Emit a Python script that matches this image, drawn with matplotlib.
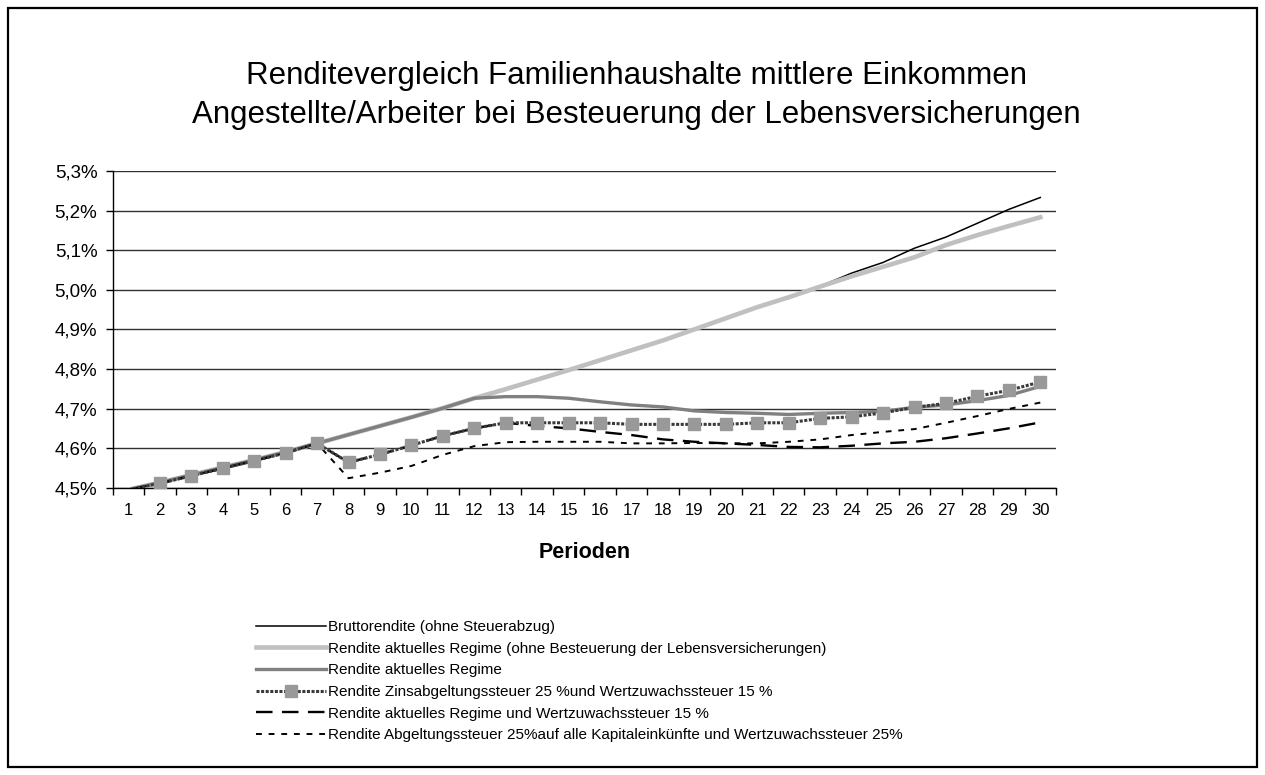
import numpy as np
import matplotlib.pyplot as plt
from matplotlib.patches import Rectangle

plt.rcParams['font.family'] = ['Liberation Sans', 'DejaVu Sans']

periods = list(range(1, 31))

# Renditen in Prozent je Periode
brutto = [4.495, 4.513, 4.532, 4.551, 4.570, 4.590, 4.612, 4.634, 4.656, 4.678,
          4.701, 4.726, 4.749, 4.773, 4.797, 4.822, 4.847, 4.872, 4.900, 4.928,
          4.956, 4.981, 5.009, 5.042, 5.069, 5.105, 5.133, 5.168, 5.203, 5.233]
ohne_lv = [4.495, 4.513, 4.532, 4.551, 4.570, 4.590, 4.612, 4.634, 4.656, 4.678,
           4.701, 4.726, 4.749, 4.773, 4.797, 4.822, 4.847, 4.872, 4.900, 4.928,
           4.956, 4.981, 5.008, 5.034, 5.058, 5.082, 5.113, 5.138, 5.161, 5.183]
aktuell = [4.495, 4.513, 4.532, 4.551, 4.570, 4.590, 4.612, 4.634, 4.656, 4.678,
           4.701, 4.726, 4.730, 4.730, 4.726, 4.717, 4.709, 4.704, 4.694, 4.690,
           4.688, 4.685, 4.688, 4.690, 4.693, 4.703, 4.709, 4.720, 4.733, 4.756]
zins_wz15 = [4.495, 4.511, 4.530, 4.549, 4.568, 4.588, 4.612, 4.564, 4.584, 4.607,
             4.631, 4.650, 4.664, 4.664, 4.664, 4.664, 4.660, 4.660, 4.660, 4.660,
             4.664, 4.664, 4.675, 4.679, 4.689, 4.703, 4.713, 4.731, 4.746, 4.767]
aktuell_wz15 = [4.495, 4.511, 4.530, 4.549, 4.568, 4.588, 4.612, 4.564, 4.584, 4.607,
                4.631, 4.650, 4.664, 4.656, 4.650, 4.641, 4.633, 4.622, 4.616, 4.612,
                4.608, 4.603, 4.602, 4.606, 4.612, 4.616, 4.625, 4.637, 4.650, 4.665]
abgeltung_wz25 = [4.495, 4.511, 4.530, 4.549, 4.568, 4.588, 4.612, 4.524, 4.538, 4.555,
                  4.583, 4.605, 4.615, 4.616, 4.616, 4.616, 4.612, 4.612, 4.613, 4.612,
                  4.612, 4.616, 4.622, 4.633, 4.641, 4.648, 4.664, 4.681, 4.699, 4.715]

labels = [
    "Bruttorendite (ohne Steuerabzug)",
    "Rendite aktuelles Regime (ohne Besteuerung der Lebensversicherungen)",
    "Rendite aktuelles Regime",
    "Rendite Zinsabgeltungssteuer 25 %und Wertzuwachssteuer 15 %",
    "Rendite aktuelles Regime und Wertzuwachssteuer 15 %",
    "Rendite Abgeltungssteuer 25%auf alle Kapitaleinkünfte und Wertzuwachssteuer 25%",
]
y_ticks = [4.5, 4.6, 4.7, 4.8, 4.9, 5.0, 5.1, 5.2, 5.3]

fig = plt.figure(figsize=(12.65, 7.75), dpi=100)
ax = fig.add_axes([0.0891, 0.3707, 0.7457, 0.4087])

ax.plot(periods, brutto, color='black', lw=1.1, zorder=3, label=labels[0])
ax.plot(periods, ohne_lv, color='#c0c0c0', lw=3.3, zorder=4, label=labels[1])
ax.plot(periods, aktuell, color='#808080', lw=2.4, zorder=5, label=labels[2])
ax.plot(periods, aktuell_wz15, color='black', lw=1.7, ls=(0, (7, 4)), zorder=6,
        label=labels[4])
ax.plot(periods, abgeltung_wz25, color='black', lw=1.4, ls=(0, (3, 3.5)), zorder=7,
        label=labels[5])
ax.plot(periods, zins_wz15, color='#3a3a3a', lw=2.2, ls=(0, (1, 0.5)), marker='s',
        ms=8, mfc='#999999', mec='#999999', markevery=list(range(1, 30)), zorder=8,
        label=labels[3])

ax.set_xlim(0.5, 30.5)
ax.set_ylim(4.5, 5.3)
ax.set_yticks(y_ticks)
ax.set_yticklabels([f"{v:.1f}%".replace('.', ',') for v in y_ticks], fontsize=13.5)
ax.grid(axis='y', color='#303030', lw=1.0, zorder=1)

# Kategorieachse: Striche zwischen den Perioden, Beschriftung in der Mitte
ax.set_xticks(np.arange(0.5, 31, 1))
ax.set_xticklabels([])
ax.set_xticks(periods, minor=True)
ax.set_xticklabels([str(p) for p in periods], minor=True, fontsize=12)
ax.tick_params(axis='x', which='major', direction='out', length=5, width=1)
ax.tick_params(axis='x', which='minor', length=0, pad=11)
ax.tick_params(axis='y', direction='out', length=5, width=1, pad=6)

for side in ['top', 'right']:
    ax.spines[side].set_visible(False)
for side in ['left', 'bottom']:
    ax.spines[side].set_color('black')
    ax.spines[side].set_linewidth(1.0)
ax.set_xlabel("Perioden", fontsize=15.5, fontweight='bold', labelpad=17)

fig.text(0.503, 1 - 76 / 775, "Renditevergleich Familienhaushalte mittlere Einkommen",
         ha='center', va='center', fontsize=22.5)
fig.text(0.503, 1 - 115 / 775, "Angestellte/Arbeiter bei Besteuerung der Lebensversicherungen",
         ha='center', va='center', fontsize=22.5)

handles, lbls = ax.get_legend_handles_labels()
order = [labels.index(l) for l in lbls]
pairs = sorted(zip(order, handles, lbls))
fig.legend([p[1] for p in pairs], [p[2] for p in pairs],
           loc='upper left', bbox_to_anchor=(256 / 1265, 1 - 620 / 775),
           frameon=False, fontsize=11, handlelength=4.6, handletextpad=0.1,
           labelspacing=0.5, borderpad=0, borderaxespad=0)

fig.patches.append(Rectangle((8 / 1265, 8 / 775), 1249 / 1265, 759 / 775,
                             transform=fig.transFigure, fill=False,
                             ec='black', lw=1.6))

fig.savefig('out.png', dpi=100, facecolor='white')
